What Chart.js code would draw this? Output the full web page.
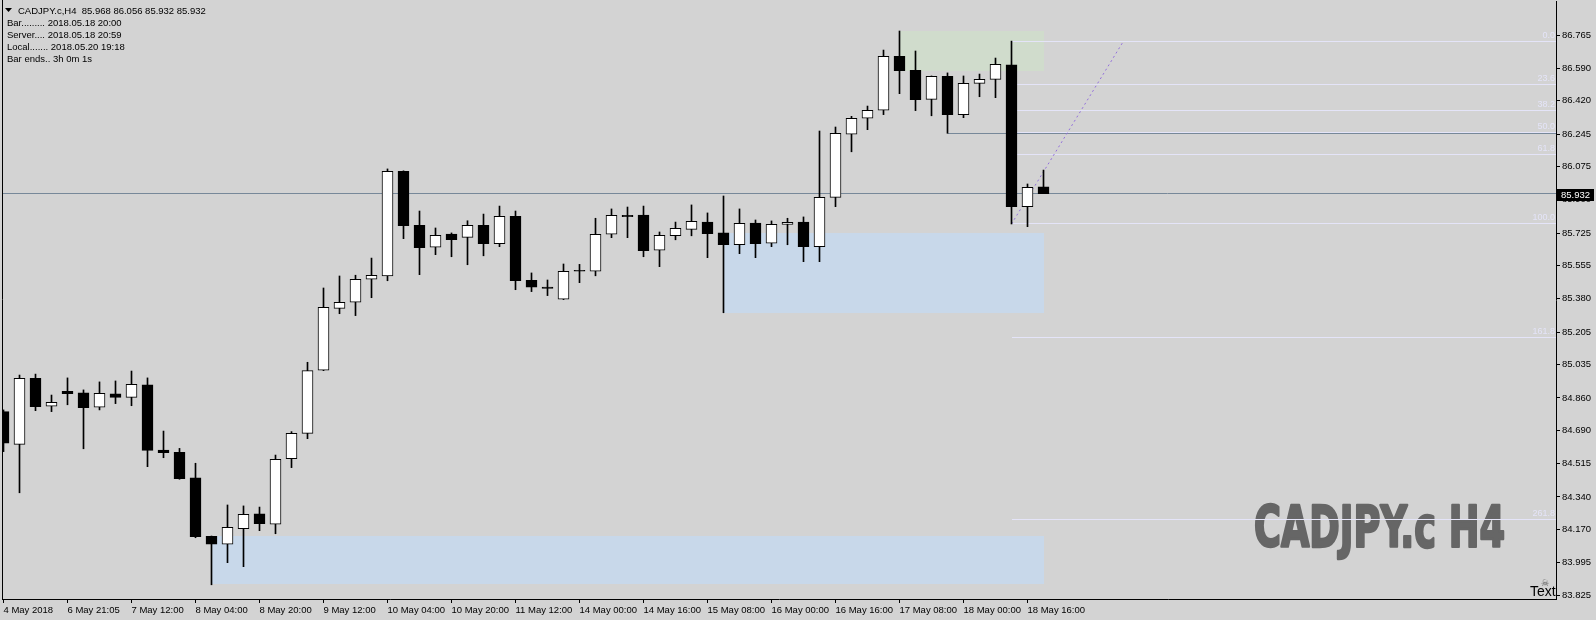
<!DOCTYPE html>
<html>
<head>
<meta charset="utf-8">
<script src="https://cdn.jsdelivr.net/npm/chart.js@4/dist/chart.umd.min.js"></script>
<style>
  html, body { margin: 0; padding: 0; background: #d3d3d3; overflow: hidden; }
  canvas { display: block; }
</style>
</head>
<body>
<canvas id="chart" width="1596" height="620"></canvas>
<script>
// CADJPY.c H4, one entry per bar, oldest first (bar 0 = 4 May, bar 65 = 18 May 20:00)
const openP = [
  84.788, 84.616, 84.963, 84.816, 84.895, 84.886, 84.811, 84.881, 84.863, 84.928,
  84.586, 84.574, 84.440, 84.133, 84.092, 84.173, 84.251, 84.197, 84.541, 84.674,
  85.005, 85.330, 85.362, 85.483, 85.501, 86.050, 85.766, 85.651, 85.720, 85.703,
  85.766, 85.670, 85.813, 85.477, 85.442, 85.378, 85.530, 85.525, 85.719, 85.818,
  85.820, 85.635, 85.711, 85.745, 85.783, 85.726, 85.664, 85.778, 85.672, 85.771,
  85.783, 85.654, 85.913, 86.244, 86.328, 86.370, 86.653, 86.580, 86.427, 86.548,
  86.347, 86.511, 86.532, 86.608, 85.864, 85.968
];
const highP = [
  84.797, 84.980, 84.985, 84.875, 84.965, 84.902, 84.944, 84.949, 85.001, 84.965,
  84.686, 84.595, 84.517, 84.135, 84.298, 84.293, 84.287, 84.560, 84.683, 85.047,
  85.437, 85.500, 85.504, 85.594, 86.062, 86.052, 85.841, 85.752, 85.726, 85.790,
  85.825, 85.867, 85.841, 85.516, 85.479, 85.563, 85.561, 85.803, 85.852, 85.862,
  85.867, 85.731, 85.783, 85.873, 85.831, 85.920, 85.852, 85.794, 85.789, 85.803,
  85.810, 86.261, 86.282, 86.338, 86.392, 86.686, 86.786, 86.681, 86.550, 86.566,
  86.550, 86.560, 86.644, 86.733, 85.983, 86.056
];
const lowP = [
  84.578, 84.362, 84.793, 84.788, 84.824, 84.593, 84.797, 84.830, 84.819, 84.499,
  84.546, 84.433, 84.126, 83.879, 83.995, 83.974, 84.163, 84.147, 84.494, 84.646,
  85.003, 85.302, 85.292, 85.386, 85.475, 85.696, 85.507, 85.612, 85.601, 85.559,
  85.606, 85.654, 85.428, 85.418, 85.397, 85.376, 85.465, 85.501, 85.701, 85.701,
  85.601, 85.549, 85.690, 85.711, 85.596, 85.307, 85.617, 85.596, 85.654, 85.664,
  85.575, 85.575, 85.864, 86.152, 86.268, 86.347, 86.457, 86.368, 86.341, 86.249,
  86.331, 86.441, 86.436, 85.773, 85.759, 85.932
];
const closeP = [
  84.622, 84.963, 84.814, 84.837, 84.882, 84.809, 84.884, 84.863, 84.931, 84.585,
  84.572, 84.436, 84.131, 84.092, 84.181, 84.249, 84.200, 84.538, 84.674, 85.003,
  85.336, 85.362, 85.483, 85.504, 86.050, 85.764, 85.648, 85.714, 85.690, 85.766,
  85.670, 85.813, 85.475, 85.441, 85.435, 85.525, 85.525, 85.719, 85.818, 85.811,
  85.633, 85.714, 85.750, 85.787, 85.722, 85.664, 85.777, 85.670, 85.771, 85.782,
  85.654, 85.913, 86.249, 86.328, 86.370, 86.653, 86.578, 86.425, 86.548, 86.347,
  86.511, 86.532, 86.611, 85.864, 85.966, 85.932
];

// time axis labels, one every 4 bars
const timeLabels = [
  '4 May 2018', '6 May 21:05', '7 May 12:00', '8 May 04:00', '8 May 20:00',
  '9 May 12:00', '10 May 04:00', '10 May 20:00', '11 May 12:00', '14 May 00:00',
  '14 May 16:00', '15 May 08:00', '16 May 00:00', '16 May 16:00', '17 May 08:00',
  '18 May 00:00', '18 May 16:00'
];
const priceTicks = [
  86.765, 86.590, 86.420, 86.245, 86.075, 85.900, 85.725, 85.555, 85.380,
  85.205, 85.035, 84.860, 84.690, 84.515, 84.340, 84.170, 83.995, 83.825
];

// supply / demand boxes: first bar, last bar, top price, bottom price
const zoneFrom = [13, 45, 56];
const zoneTo = [65, 65, 65];
const zoneTop = [84.135, 85.727, 86.786];
const zoneBottom = [83.883, 85.307, 86.578];

// fibo drawn on bar 63 (high 86.733 -> low 85.773)
const fibNames = ['0.0', '23.6', '38.2', '50.0', '61.8', '100.0', '161.8', '261.8'];
const fibRatios = [0, 0.236, 0.382, 0.5, 0.618, 1, 1.618, 2.618];
const fibHigh = 86.733;
const fibLow = 85.773;
const lastPrice = 85.932;

const bars = openP.map((o, i) => i);
const bodyColors = openP.map((o, i) => closeP[i] >= o ? '#ffffff' : '#000000');

const half = v => Math.round(v - 0.5) + 0.5;

const decor = {
  id: 'decor',
  beforeDraw(chart) {
    const ctx = chart.ctx;
    ctx.save();
    ctx.fillStyle = '#d3d3d3';
    ctx.fillRect(0, 0, chart.width, chart.height);
    ctx.restore();
  },
  beforeDatasetsDraw(chart) {
    const { ctx, chartArea: a, scales: { x, y } } = chart;
    ctx.save();
    ctx.beginPath();
    ctx.rect(a.left, a.top, a.right - a.left, a.bottom - a.top);
    ctx.clip();

    const zoneColors = ['#c8d8ea', '#c8d8ea', '#d0dccc'];
    zoneTop.forEach((t, i) => {
      const x0 = Math.round(x.getPixelForValue(zoneFrom[i]));
      const x1 = Math.round(x.getPixelForValue(zoneTo[i]));
      const y0 = Math.round(y.getPixelForValue(t));
      const y1 = Math.round(y.getPixelForValue(zoneBottom[i]));
      ctx.fillStyle = zoneColors[i];
      ctx.fillRect(x0, y0, x1 - x0, y1 - y0);
    });

    // symbol watermark
    ctx.fillStyle = '#666666';
    ctx.strokeStyle = '#666666';
    ctx.lineWidth = 2.5;
    ctx.lineJoin = 'round';
    ctx.font = 'bold 57px "DejaVu Sans Condensed", "DejaVu Sans", sans-serif';
    ctx.textBaseline = 'alphabetic';
    ctx.textAlign = 'left';
    ctx.fillText('CADJPY.c H4', 1254, 547, 251);
    ctx.strokeText('CADJPY.c H4', 1254, 547, 251);

    // fibo levels
    const fx = x.getPixelForValue(63);
    ctx.lineWidth = 1;
    ctx.strokeStyle = '#e4e4f8';
    ctx.fillStyle = '#e4e4f8';
    ctx.font = '9px "Liberation Sans", Arial, sans-serif';
    ctx.textAlign = 'right';
    ctx.textBaseline = 'bottom';
    fibRatios.forEach((r, i) => {
      const yy = half(y.getPixelForValue(fibHigh - r * (fibHigh - fibLow)));
      ctx.beginPath();
      ctx.moveTo(Math.round(fx), yy);
      ctx.lineTo(a.right, yy);
      ctx.stroke();
      ctx.fillText(fibNames[i], a.right - 1, yy - 1);
    });

    // slate lines: bid and the bar 59 low
    ctx.strokeStyle = '#778899';
    let yy = half(y.getPixelForValue(lastPrice));
    ctx.beginPath();
    ctx.moveTo(a.left, yy);
    ctx.lineTo(a.right, yy);
    ctx.stroke();
    yy = half(y.getPixelForValue(lowP[59]));
    ctx.beginPath();
    ctx.moveTo(Math.round(x.getPixelForValue(59)), yy);
    ctx.lineTo(a.right, yy);
    ctx.stroke();

    // fibo trend line
    ctx.strokeStyle = '#9370db';
    ctx.setLineDash([2, 3]);
    ctx.beginPath();
    ctx.moveTo(x.getPixelForValue(63), y.getPixelForValue(fibLow));
    ctx.lineTo(x.getPixelForValue(70), y.getPixelForValue(fibHigh));
    ctx.stroke();
    ctx.setLineDash([]);
    ctx.restore();
  },
  afterDraw(chart) {
    const { ctx, chartArea: a, scales: { y } } = chart;
    ctx.save();
    // left frame
    ctx.strokeStyle = '#000';
    ctx.lineWidth = 1;
    ctx.beginPath();
    ctx.moveTo(a.left + 0.5, 0);
    ctx.lineTo(a.left + 0.5, a.bottom);
    ctx.stroke();

    // bid label on the price scale
    const by = Math.round(y.getPixelForValue(lastPrice));
    ctx.fillStyle = '#000';
    ctx.fillRect(a.right + 1, by - 5, 37, 12);
    ctx.fillStyle = '#fff';
    ctx.font = '9.5px "Liberation Sans", Arial, sans-serif';
    ctx.textAlign = 'left';
    ctx.textBaseline = 'middle';
    ctx.fillText(lastPrice.toFixed(3), a.right + 5, by + 1);

    // info block
    ctx.fillStyle = '#000';
    ctx.beginPath();
    ctx.moveTo(5, 8);
    ctx.lineTo(12, 8);
    ctx.lineTo(8.5, 12);
    ctx.closePath();
    ctx.fill();
    ctx.fillText('CADJPY.c,H4  85.968 86.056 85.932 85.932', 18, 11);
    ctx.fillText('Bar......... 2018.05.18 20:00', 7, 23);
    ctx.fillText('Server.... 2018.05.18 20:59', 7, 35);
    ctx.fillText('Local....... 2018.05.20 19:18', 7, 47);
    ctx.fillText('Bar ends.. 3h 0m 1s', 7, 59);

    // "Text" object
    ctx.font = '14px "Liberation Sans", Arial, sans-serif';
    ctx.textBaseline = 'alphabetic';
    ctx.fillText('Text', 1530, 596);
    ctx.fillStyle = '#555';
    ctx.font = '9px "DejaVu Sans", sans-serif';
    ctx.fillText('\u2620', 1541, 586);
    ctx.restore();
  }
};

Chart.defaults.font.family = '"Liberation Sans", Arial, sans-serif';
Chart.defaults.font.size = 9.5;
Chart.defaults.color = '#000';

new Chart(document.getElementById('chart'), {
  type: 'bar',
  data: {
    datasets: [
      {
        label: 'body',
        data: bars.map(i => ({ x: i, y: [openP[i], closeP[i]] })),
        backgroundColor: bodyColors,
        borderColor: '#000',
        borderWidth: 1,
        borderSkipped: false,
        barThickness: 11,
        minBarLength: 1,
        grouped: false,
        order: 0
      },
      {
        label: 'wick',
        data: bars.map(i => ({ x: i, y: [lowP[i], highP[i]] })),
        backgroundColor: '#000',
        borderWidth: 0,
        barThickness: 1,
        grouped: false,
        order: 1
      }
    ]
  },
  options: {
    responsive: false,
    animation: false,
    events: [],
    layout: { padding: { left: 2, top: 1, right: 0, bottom: 0 } },
    plugins: { legend: { display: false }, tooltip: { enabled: false } },
    scales: {
      x: {
        type: 'linear',
        min: -0.09375,
        max: 97.03125,
        offset: false,
        grid: { offset: false, drawOnChartArea: false, drawTicks: true, tickLength: 4, color: '#000' },
        border: { display: true, color: '#000', width: 1 },
        ticks: {
          autoSkip: false,
          maxRotation: 0,
          minRotation: 0,
          align: 'start',
          padding: 2,
          callback: v => timeLabels[Math.round(v / 4)] || ''
        },
        afterBuildTicks: s => { s.ticks = timeLabels.map((t, i) => ({ value: i * 4 })); },
        afterFit: s => { s.height = 21; s.paddingLeft = 0; s.paddingRight = 0; }
      },
      y: {
        type: 'linear',
        position: 'right',
        min: 83.8044,
        max: 86.9435,
        grid: { drawOnChartArea: false, drawTicks: true, tickLength: 4, color: '#000' },
        border: { display: true, color: '#000', width: 1 },
        ticks: { padding: 2, callback: v => Number(v).toFixed(3) },
        afterBuildTicks: s => { s.ticks = priceTicks.map(v => ({ value: v })); },
        afterFit: s => { s.width = 40; s.paddingTop = 0; s.paddingBottom = 0; }
      }
    }
  },
  plugins: [decor]
});
</script>
</body>
</html>
